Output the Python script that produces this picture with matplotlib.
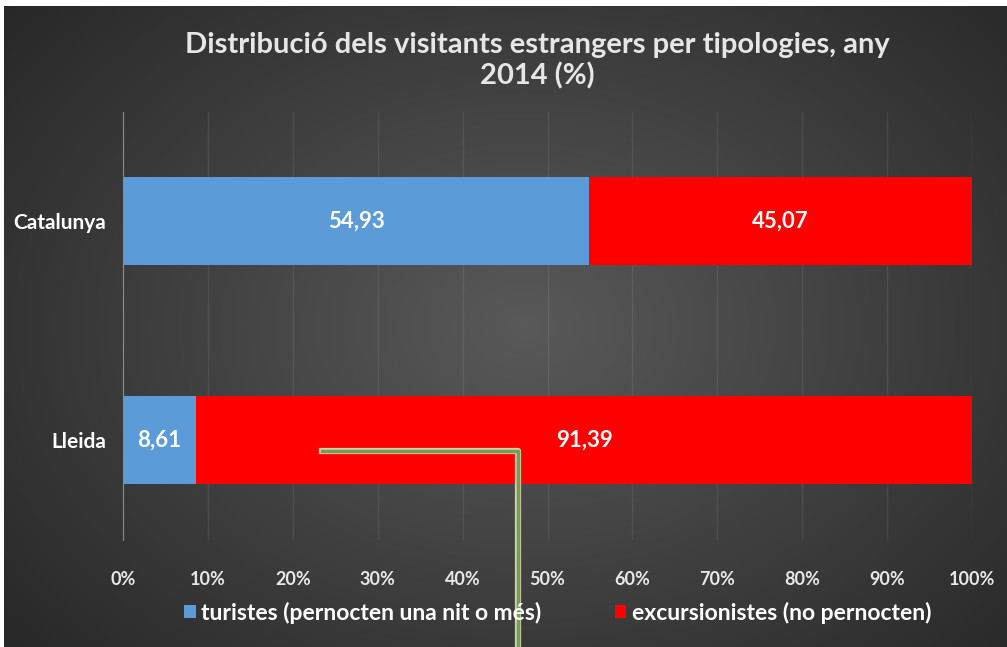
import numpy as np
import matplotlib.pyplot as plt

plt.rcParams['font.family'] = ['Lato', 'DejaVu Sans']
plt.rcParams['font.weight'] = 'bold'

categories = ['Lleida', 'Catalunya']
turistes = [8.61, 54.93]
excursionistes = [91.39, 45.07]
series_names = ['turistes (pernocten una nit o més)', 'excursionistes (no pernocten)']
ticks = [0, 10, 20, 30, 40, 50, 60, 70, 80, 90, 100]
title = 'Distribució dels visitants estrangers per tipologies, any\n2014 (%)'

fig = plt.figure(figsize=(10.07, 6.47), dpi=100, facecolor='white')

# fons fosc amb degradat radial
bg = fig.add_axes([4 / 1007, 0, 1 - 4 / 1007, 1 - 6 / 647])
yy, xx = np.mgrid[0:1:300j, 0:1:400j]
r = np.clip(np.sqrt(((xx - 0.52) / 0.7) ** 2 + ((yy - 0.5) / 0.8) ** 2), 0, 1)
g = 0.35 - 0.20 * r
bg.imshow(np.dstack([g, g, g]), aspect='auto', extent=[0, 1, 0, 1], interpolation='bilinear')
bg.set_axis_off()

ax = fig.add_axes([123 / 1007, 1 - 540 / 647, (972 - 123) / 1007, (540 - 112) / 647])
ax.set_facecolor('none')

y = np.arange(len(categories))
ax.barh(y, turistes, height=0.40, color='#5b9bd8', label=series_names[0], zorder=3)
ax.barh(y, excursionistes, left=turistes, height=0.40, color='#ff0000',
        label=series_names[1], zorder=3)

for i in range(len(categories)):
    ax.text(turistes[i] / 2, y[i], f'{turistes[i]:.2f}'.replace('.', ','),
            ha='center', va='center', color='white', fontsize=16, fontweight='bold', zorder=4)
    ax.text(turistes[i] + excursionistes[i] / 2, y[i], f'{excursionistes[i]:.2f}'.replace('.', ','),
            ha='center', va='center', color='white', fontsize=16, fontweight='bold', zorder=4)

ax.set_xlim(0, 100)
ax.set_ylim(-0.457, 1.498)
ax.set_xticks(ticks)
ax.set_xticklabels([f'{t}%' for t in ticks])
ax.set_yticks(y)
ax.set_yticklabels(categories)
ax.tick_params(axis='x', length=0, pad=22, labelsize=13, labelcolor='#e8e8e8')
ax.tick_params(axis='y', length=0, pad=12, labelsize=15, labelcolor='white')
ax.grid(axis='x', color='white', alpha=0.08, linewidth=1, zorder=1)
for s in ['top', 'right', 'bottom']:
    ax.spines[s].set_visible(False)
ax.spines['left'].set_color('#8a8a8a')
ax.spines['left'].set_zorder(5)

fig.text(0.534, 1 - 61 / 647, title, ha='center', va='center', color='#e6e6e6',
         fontsize=21, fontweight='bold', linespacing=1.2)

leg = fig.legend(loc='center', bbox_to_anchor=(0.554, 1 - 613 / 647), ncol=2, frameon=False,
                 handlelength=0.5, handleheight=0.5, handletextpad=0.25, columnspacing=3.2,
                 prop={'size': 16.5, 'weight': 'bold'})
for t in leg.get_texts():
    t.set_color('white')

# línia verda sobreposada
fig.add_artist(plt.Line2D([322 / 1007, 518 / 1007, 518 / 1007],
                          [1 - 451 / 647, 1 - 451 / 647, 0], color='#c8d6a8', linewidth=4.5))
fig.add_artist(plt.Line2D([322 / 1007, 518 / 1007, 518 / 1007],
                          [1 - 451 / 647, 1 - 451 / 647, 0], color='#7d9a55', linewidth=2.5))

plt.savefig('out.png', dpi=100, facecolor=fig.get_facecolor())
